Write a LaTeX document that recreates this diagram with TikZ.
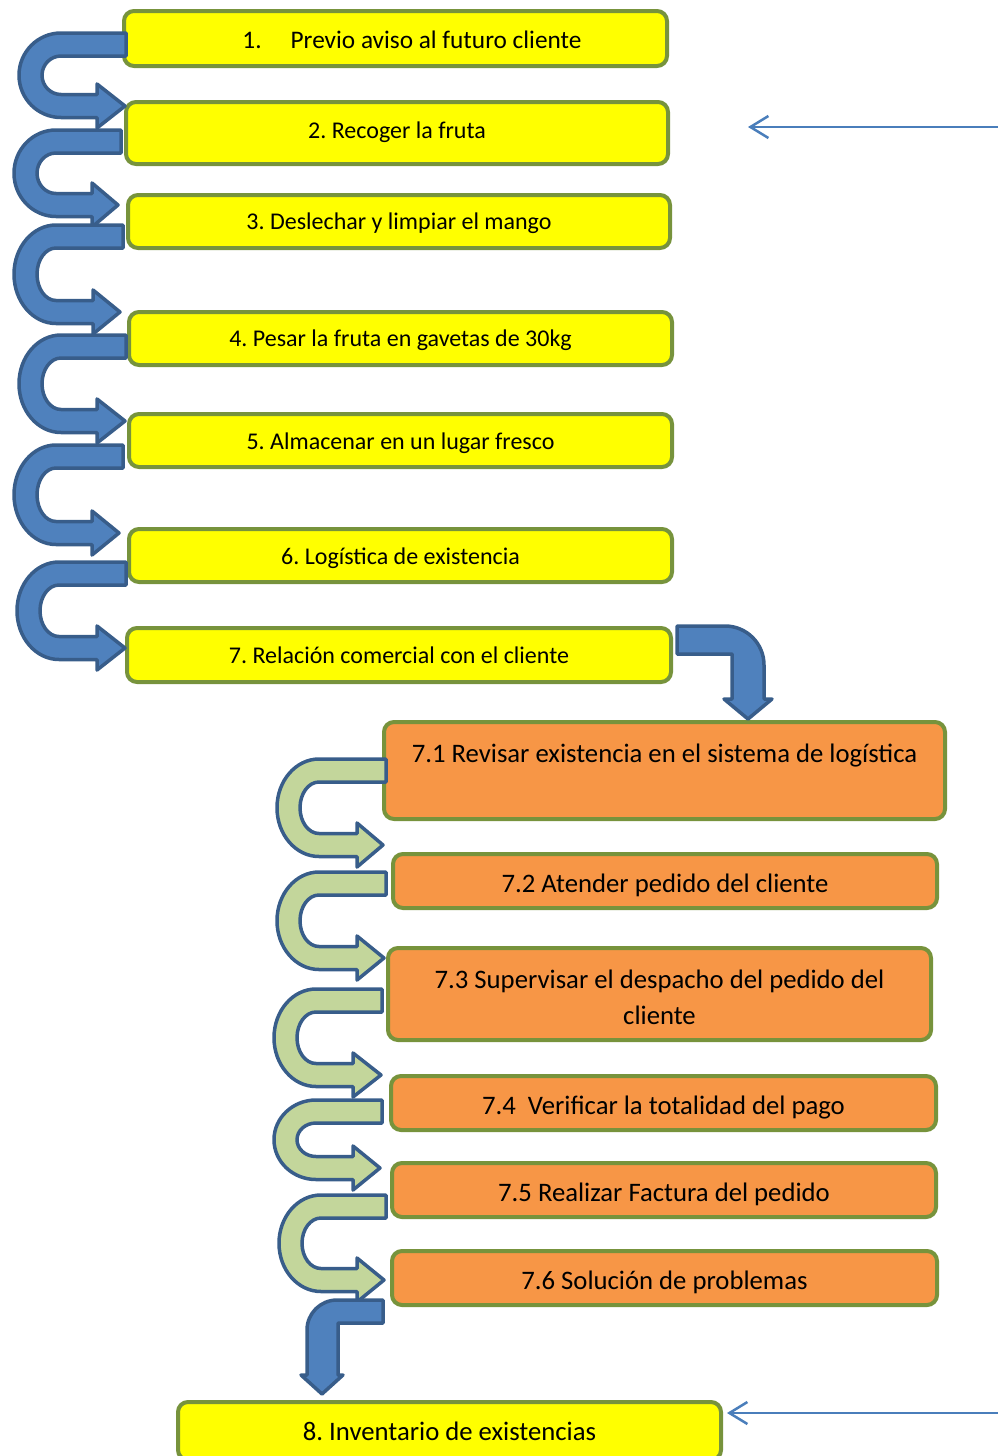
\documentclass[tikz,border=0pt]{standalone}
\usepackage{fontspec}
\setmainfont{Carlito}
\usetikzlibrary{arrows.meta}

\definecolor{boxline}{HTML}{77933C}
\definecolor{boxyellow}{HTML}{FFFF00}
\definecolor{boxorange}{HTML}{F79646}
\definecolor{arrowblue}{HTML}{4F81BD}
\definecolor{arrowgreen}{HTML}{C3D69B}
\definecolor{arrowline}{HTML}{385D8A}
\definecolor{pointer}{HTML}{4A7EBB}

% U-shaped block arrow: tail x, top y, left x, head base x, tip x, tip y
\newcommand\uturnarrow[7]{%
  \pgfmathsetmacro\UTt{#3+2}%
  \pgfmathsetmacro\UTb{#7+11.5}%
  \pgfmathsetmacro\UTry{(\UTb-\UTt)/2}%
  \pgfmathsetmacro\UTcx{#4+2+42}%
  \pgfmathsetmacro\UTiy{\UTry-23}%
  \pgfmathsetmacro\UTin{\UTb-23}%
  \pgfmathsetmacro\UThp{#7+22}%
  \pgfmathsetmacro\UThm{#7-22}%
  \pgfmathsetmacro\UTti{\UTt+23}%
  \pgfmathsetmacro\UTtip{#6-2}%
  \pgfmathsetmacro\UTxr{#2-2}%
  \draw[#1] (\UTxr,\UTt) -- (\UTcx,\UTt)
    arc[start angle=270,end angle=90,x radius=42,y radius=\UTry]
    -- (#5,\UTb) -- (#5,\UThp) -- (\UTtip,#7) -- (#5,\UThm) -- (#5,\UTin) -- (\UTcx,\UTin)
    arc[start angle=90,end angle=270,x radius=19,y radius=\UTiy]
    -- (\UTxr,\UTti) -- cycle;
}

\tikzset{
  stagebox/.style={draw=boxline, line width=4pt, rounded corners=10pt, inner sep=0pt,
    fill=boxyellow},
  subbox/.style={stagebox, fill=boxorange},
  stagetext/.style={inner sep=0pt, align=center, font=\fontsize{24}{29}\selectfont},
  subtext/.style={inner sep=0pt, align=center, font=\fontsize{26.7}{36}\selectfont},
  bluearrow/.style={draw=arrowline, fill=arrowblue, line width=3.5pt, line join=round},
  greenarrow/.style={draw=arrowline, fill=arrowgreen, line width=3.5pt, line join=round},
  pointerline/.style={draw=pointer, line width=2.5pt,
    -{Straight Barb[length=18pt,width=22pt,line width=2.5pt]}},
}

\begin{document}
\frenchspacing
\begin{tikzpicture}[x=1pt,y=-1pt]
\path[use as bounding box] (0,0) rectangle (998,1456);

% main stages
\node[stagebox, minimum width=543pt, minimum height=55pt] (b1) at (395.5,38.5) {};
\node[stagetext, font=\fontsize{25.3}{30}\selectfont] (t1) at (412,40) {1.\hspace{29pt}Previo aviso al futuro cliente};
\node[stagebox, minimum width=542pt, minimum height=62pt] (b2) at (397,133) {};
\node[stagetext] (t2) at ([yshift=1pt]b2.center) {2. Recoger la fruta};
\node[stagebox, minimum width=542pt, minimum height=53pt] (b3) at (399,221.5) {};
\node[stagetext] (t3) at ([yshift=-2pt]b3.center) {3. Deslechar y limpiar el mango};
\node[stagebox, minimum width=543pt, minimum height=53pt] (b4) at (400.5,338.5) {};
\node[stagetext] (t4) at ([yshift=-2pt]b4.center) {4. Pesar la fruta en gavetas de 30kg};
\node[stagebox, minimum width=543pt, minimum height=53pt] (b5) at (400.5,440.5) {};
\node[stagetext] (t5) at ([yshift=-2.5pt]b5.center) {5. Almacenar en un lugar fresco};
\node[stagebox, minimum width=543pt, minimum height=53pt] (b6) at (400.5,555.5) {};
\node[stagetext] (t6) at ([yshift=-2.5pt]b6.center) {6. Logística de existencia};
\node[stagebox, minimum width=544pt, minimum height=54pt] (b7) at (399,655) {};
\node[stagetext] (t7) at (b7.center) {7. Relación comercial con el cliente};

% sub-steps of stage 7
\node[subbox, minimum width=561pt, minimum height=97pt] (b71) at (664.5,770.5) {};
\node[subtext] (t71) at (664.5,755.5) {7.1 Revisar existencia en el sistema de logística};
\node[subbox, minimum width=544pt, minimum height=54pt] (b72) at (665,881) {};
\node[subtext] (t72) at ([yshift=-4.5pt]b72.center) {7.2 Atender pedido del cliente};
\node[subbox, minimum width=543pt, minimum height=92pt] (b73) at (659.5,994) {};
\node[subtext] (t73) at ([yshift=-3pt]b73.center) {7.3 Supervisar el despacho del pedido del\\cliente};
\node[subbox, minimum width=545pt, minimum height=54pt] (b74) at (663.5,1103) {};
\node[subtext] (t74) at ([yshift=-5pt]b74.center) {7.4\ \ Verificar la totalidad del pago};
\node[subbox, minimum width=544pt, minimum height=54pt] (b75) at (664,1190) {};
\node[subtext] (t75) at ([yshift=-4.5pt]b75.center) {7.5 Realizar Factura del pedido};
\node[subbox, minimum width=545pt, minimum height=54pt] (b76) at (664.5,1278) {};
\node[subtext] (t76) at ([yshift=-4.5pt]b76.center) {7.6 Solución de problemas};

% final stage
\node[stagebox, minimum width=543pt, minimum height=58pt] (b8) at (449.5,1431) {};
\node[subtext] (t8) at (b8.center) {8. Inventario de existencias};

% blue U-turn arrows between the main stages
\uturnarrow{bluearrow}{128}{31}{17}{97}{127}{106}
\uturnarrow{bluearrow}{123}{128}{12}{92}{120}{205}
\uturnarrow{bluearrow}{125}{223}{12}{93}{122}{312}
\uturnarrow{bluearrow}{128}{333}{17}{97}{127}{421}
\uturnarrow{bluearrow}{125}{443}{12}{92}{121}{533}
\uturnarrow{bluearrow}{128}{560}{15}{97}{127}{648}

% bent arrow from stage 7 down to 7.1
\draw[bluearrow] (677,626) -- (725,626) arc[start angle=270,end angle=360,radius=39]
  -- (764,699) -- (772,699) -- (748,719) -- (724,699) -- (732,699) -- (732,654) -- (677,654) -- cycle;

% green U-turn arrows between the sub-steps
\uturnarrow{greenarrow}{388}{757}{275}{357}{385}{845}
\uturnarrow{greenarrow}{388}{870}{275}{357}{386}{958}
\uturnarrow{greenarrow}{384}{987}{272}{353}{383}{1075}
\uturnarrow{greenarrow}{384}{1098}{272}{353}{382}{1168}
\uturnarrow{greenarrow}{388}{1193}{277}{357}{386}{1280}

% bent arrow from 7.6 down to stage 8
\draw[bluearrow] (383,1300) -- (337,1300) arc[start angle=270,end angle=180,radius=30]
  -- (307,1375) -- (301,1375) -- (322,1394) -- (343,1375) -- (338,1375) -- (338,1323) -- (383,1323) -- cycle;

% pointers from the right margin
\coordinate (p1s) at (998,127);
\coordinate (p1e) at (748,127);
\draw[pointerline] (p1s) -- (p1e);
\coordinate (p2s) at (998,1413);
\coordinate (p2e) at (727,1413);
\draw[pointerline] (p2s) -- (p2e);
\end{tikzpicture}
\end{document}
